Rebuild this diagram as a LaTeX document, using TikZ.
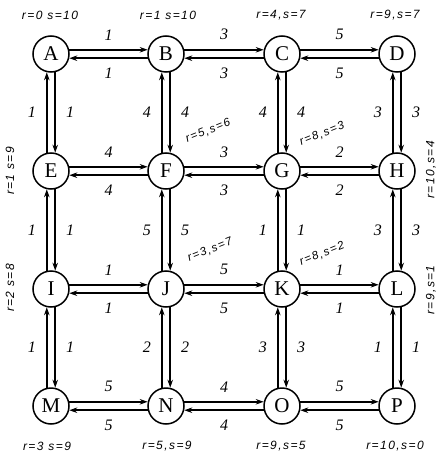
\documentclass[tikz,border=0pt]{standalone}
\usepackage{fontspec}
\setmainfont{Liberation Serif}
\newfontfamily\annf[LetterSpace=12]{Liberation Sans}
\usetikzlibrary{arrows.meta}
\newcommand{\myH}[4]{%
  \draw[arr] (#1.13) -- (#2.167) node[midway,wl,yshift=15pt]{#3};
  \draw[arr] (#2.193) -- (#1.347) node[midway,wl,yshift=-15pt]{#4};}
\newcommand{\myV}[4]{%
  \draw[arr] (#2.103) -- (#1.257) node[midway,wl,xshift=-15pt]{#3};
  \draw[arr] (#1.283) -- (#2.77) node[midway,wl,xshift=15pt]{#4};}
\begin{document}
\begin{tikzpicture}[x=1pt,y=-1pt,
  vtx/.style={circle,draw,line width=1.5pt,minimum size=36pt,inner sep=0pt,font=\fontsize{21}{22}\selectfont},
  arr/.style={line width=1.6pt,-{Stealth[length=8pt,width=5.5pt]}},
  wl/.style={font=\fontsize{16}{17}\selectfont\itshape,inner sep=0pt},
  ann/.style={font=\annf\fontsize{12}{13}\selectfont\itshape,inner sep=0pt},
  dann/.style={ann,rotate=22,font=\annf\fontsize{11.5}{12}\selectfont\itshape}]
\useasboundingbox (0,0) rectangle (438,457);
% vertices
\node[vtx] (A) at (51,54) {A};
\node[vtx] (B) at (166,54) {B};
\node[vtx] (C) at (282,54) {C};
\node[vtx] (D) at (397,54) {D};
\node[vtx] (E) at (51,171) {E};
\node[vtx] (F) at (166,171) {F};
\node[vtx] (G) at (282,171) {G};
\node[vtx] (H) at (397,171) {H};
\node[vtx] (I) at (51,289) {I};
\node[vtx] (J) at (166,289) {J};
\node[vtx] (K) at (282,289) {K};
\node[vtx] (L) at (397,289) {L};
\node[vtx] (M) at (51,406) {M};
\node[vtx] (N) at (166,406) {N};
\node[vtx] (O) at (282,406) {O};
\node[vtx] (P) at (397,406) {P};
% horizontal edges
\myH{A}{B}{1}{1}
\myH{B}{C}{3}{3}
\myH{C}{D}{5}{5}
\myH{E}{F}{4}{4}
\myH{F}{G}{3}{3}
\myH{G}{H}{2}{2}
\myH{I}{J}{1}{1}
\myH{J}{K}{5}{5}
\myH{K}{L}{1}{1}
\myH{M}{N}{5}{5}
\myH{N}{O}{4}{4}
\myH{O}{P}{5}{5}
% vertical edges
\myV{A}{E}{1}{1}
\myV{E}{I}{1}{1}
\myV{I}{M}{1}{1}
\myV{B}{F}{4}{4}
\myV{F}{J}{5}{5}
\myV{J}{N}{2}{2}
\myV{C}{G}{4}{4}
\myV{G}{K}{1}{1}
\myV{K}{O}{3}{3}
\myV{D}{H}{3}{3}
\myV{H}{L}{3}{3}
\myV{L}{P}{1}{1}
% annotations
\node[ann] (aA) at (50,15) {r=0 s=10};
\node[ann] (aB) at (168,15) {r=1 s=10};
\node[ann] (aC) at (281,15) {r=4,s=7};
\node[ann] (aD) at (395,15) {r=9,s=7};
\node[ann,rotate=90] (aE) at (10,171) {r=1 s=9};
\node[ann,rotate=90] (aI) at (10,288) {r=2 s=8};
\node[ann,rotate=90] (aH) at (431,170) {r=10,s=4};
\node[ann,rotate=90] (aL) at (431,290) {r=9,s=1};
\node[dann] (aF) at (208,131) {r=5,s=6};
\node[dann] (aG) at (322,134) {r=8,s=3};
\node[dann] (aJ) at (210,250) {r=3,s=7};
\node[dann] (aK) at (322,254) {r=8,s=2};
\node[ann] (aM) at (47,446) {r=3 s=9};
\node[ann] (aN) at (167,446) {r=5,s=9};
\node[ann] (aO) at (281,446) {r=9,s=5};
\node[ann] (aP) at (395,446) {r=10,s=0};
\end{tikzpicture}
\end{document}
